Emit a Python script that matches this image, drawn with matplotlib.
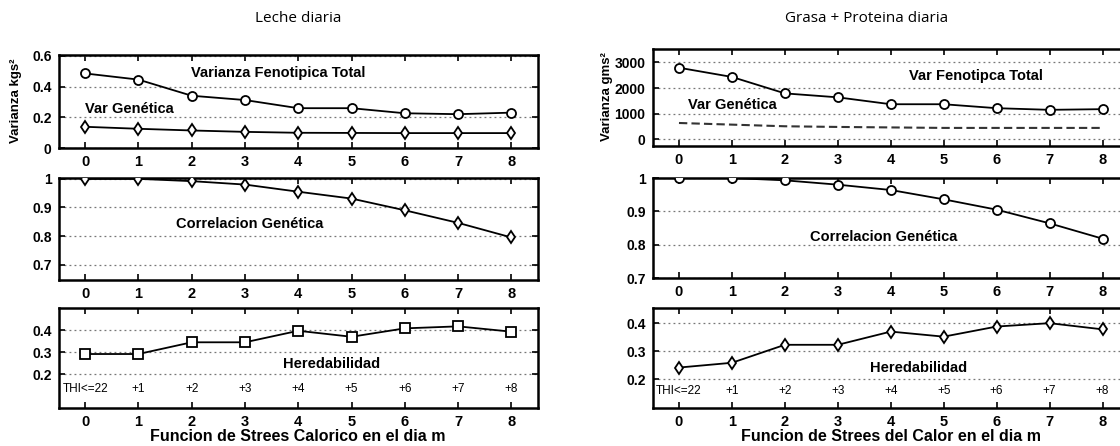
import matplotlib
matplotlib.use("Agg")
import matplotlib.pyplot as plt

# datos
dias = [0, 1, 2, 3, 4, 5, 6, 7, 8]
thi_labels = ["THI<=22", "+1", "+2", "+3", "+4", "+5", "+6", "+7", "+8"]

leche_fen = [0.485, 0.445, 0.34, 0.312, 0.259, 0.259, 0.226, 0.22, 0.23]
leche_gen = [0.138, 0.125, 0.114, 0.105, 0.099, 0.098, 0.097, 0.097, 0.097]
leche_corr = [1.0, 1.0, 0.992, 0.98, 0.955, 0.931, 0.89, 0.846, 0.795]
leche_h2 = [0.292, 0.292, 0.345, 0.345, 0.397, 0.37, 0.408, 0.417, 0.393]

gp_fen = [2795, 2436, 1795, 1641, 1372, 1372, 1218, 1154, 1180]
gp_gen = [641, 577, 513, 487, 468, 449, 449, 449, 449]
gp_corr = [1.0, 1.0, 0.993, 0.98, 0.964, 0.936, 0.905, 0.864, 0.818]
gp_h2 = [0.242, 0.259, 0.323, 0.323, 0.37, 0.352, 0.388, 0.40, 0.378]

W, H = 1120, 446
fig = plt.figure(figsize=(W / 100, H / 100), dpi=100)

BOLD = dict(family="Liberation Sans", weight="bold")


def make_ax(x0, x1, y0, y1):
    # pixel box -> figure fraction
    ax = fig.add_axes([x0 / W, 1 - y1 / H, (x1 - x0) / W, (y1 - y0) / H])
    for s in ax.spines.values():
        s.set_linewidth(1.8)
    ax.set_xlim(-0.5, 8.5)
    ax.set_xticks(dias)
    ax.tick_params(direction="in", top=True, right=True, length=4, width=1.2,
                   pad=5)
    for lab in ax.get_xticklabels():
        lab.set_fontproperties(matplotlib.font_manager.FontProperties(
            family="Liberation Sans", weight="bold", size=10.5))
    ax.yaxis.grid(True, linestyle=(0, (1.5, 2.5)), color="#777777", lw=0.9)
    return ax


def style_y(ax, ticks, labels):
    ax.set_yticks(ticks)
    ax.set_yticklabels(labels, fontsize=10, **BOLD)


def line(ax, y, marker, ms=6.5):
    ax.plot(dias, y, "-", color="black", lw=1.3, marker=marker, ms=ms,
            mfc="white", mec="black", mew=1.3, zorder=3)


LX0, LX1 = 58.5, 538
RX0, RX1 = 652.5, 1129

# ---- Leche diaria ----
ax1 = make_ax(LX0, LX1, 55, 148)
line(ax1, leche_fen, "o")
line(ax1, leche_gen, "d")
ax1.set_ylim(0, 0.605)
style_y(ax1, [0, 0.2, 0.4, 0.6], ["0", "0.2", "0.4", "0.6"])
ax1.text(3.62, 0.49, "Varianza Fenotipica Total", ha="center", va="center",
         fontsize=10.5, **BOLD)
ax1.text(0.0, 0.253, "Var Genética", ha="left", va="center", fontsize=10.5,
         **BOLD)

ax2 = make_ax(LX0, LX1, 178, 280)
line(ax2, leche_corr, "d")
ax2.set_ylim(0.646, 1.003)
style_y(ax2, [0.7, 0.8, 0.9, 1.0], ["0.7", "0.8", "0.9", "1"])
ax2.text(3.08, 0.841, "Correlacion Genética", ha="center", va="center",
         fontsize=10.5, **BOLD)

ax3 = make_ax(LX0, LX1, 308, 408)
line(ax3, leche_h2, "s", ms=7)
ax3.set_ylim(0.048, 0.5)
style_y(ax3, [0.2, 0.3, 0.4], ["0.2", "0.3", "0.4"])
ax3.text(4.63, 0.245, "Heredabilidad", ha="center", va="center",
         fontsize=10.5, **BOLD)
for xi, t in zip(dias, thi_labels):
    ax3.text(xi, 0.132, t, ha="center", va="center", fontsize=8.5,
             family="Liberation Sans")
ax3.set_xlabel("Funcion de Strees Calorico en el dia m", fontsize=11.5,
               labelpad=0, **BOLD)

fig.text(16 / W, 1 - 101 / H, "Varianza kgs²", rotation=90, ha="center",
         va="center", fontsize=9.5, **BOLD)
fig.text(298 / W, 1 - 18 / H, "Leche diaria", ha="center", va="center",
         fontsize=11, family="Open Sans")

# ---- Grasa + Proteina diaria ----
ax4 = make_ax(RX0, RX1, 49, 146)
line(ax4, gp_fen, "o")
ax4.plot(dias, gp_gen, linestyle=(0, (4, 2)), color="#333333", lw=1.5)
ax4.set_ylim(-256, 3525)
style_y(ax4, [0, 1000, 2000, 3000], ["0", "1000", "2000", "3000"])
ax4.text(5.6, 2480, "Var Fenotipca Total", ha="center", va="center",
         fontsize=10.5, **BOLD)
ax4.text(0.17, 1350, "Var Genética", ha="left", va="center", fontsize=10.5,
         **BOLD)

ax5 = make_ax(RX0, RX1, 178, 278)
line(ax5, gp_corr, "o")
ax5.set_ylim(0.7, 1.0)
style_y(ax5, [0.7, 0.8, 0.9, 1.0], ["0.7", "0.8", "0.9", "1"])
ax5.text(3.87, 0.823, "Correlacion Genética", ha="center", va="center",
         fontsize=10.5, **BOLD)

ax6 = make_ax(RX0, RX1, 308, 408)
line(ax6, gp_h2, "d")
ax6.set_ylim(0.098, 0.454)
style_y(ax6, [0.2, 0.3, 0.4], ["0.2", "0.3", "0.4"])
ax6.text(4.53, 0.242, "Heredabilidad", ha="center", va="center",
         fontsize=10.5, **BOLD)
for xi, t in zip(dias, thi_labels):
    ax6.text(xi, 0.16, t, ha="center", va="center", fontsize=8.5,
             family="Liberation Sans")
ax6.set_xlabel("Funcion de Strees del Calor en el dia m", fontsize=11.5,
               labelpad=0, **BOLD)

fig.text(607 / W, 1 - 97 / H, "Varianza gms²", rotation=90, ha="center",
         va="center", fontsize=9.5, **BOLD)
fig.text(867 / W, 1 - 18 / H, "Grasa + Proteina diaria", ha="center",
         va="center", fontsize=11, family="Open Sans")

fig.savefig("out.png", dpi=100)
